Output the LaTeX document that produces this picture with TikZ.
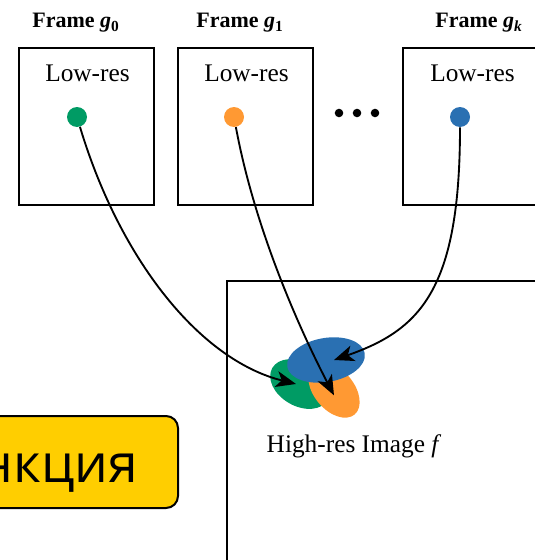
\documentclass[tikz,border=0pt]{standalone}
\usepackage{fontspec}
\setmainfont{Liberation Serif}
\newfontfamily\tagfont{Open Sans}
\usetikzlibrary{arrows.meta,shapes.geometric,positioning}
\definecolor{dotgreen}{RGB}{0,155,100}
\definecolor{dotorange}{RGB}{255,153,51}
\definecolor{dotblue}{RGB}{42,112,178}
\definecolor{tagyellow}{RGB}{255,206,0}
\tikzset{lowbox/.style={
            draw,
            line width=1.2pt,
            inner sep=0pt,
            minimum width=101pt,
            minimum height=118pt
        },
        sample/.style={
            circle,
            inner sep=0pt,
            minimum size=15pt
        },
        blob/.style={
            ellipse,
            inner sep=0pt
        },
        title/.style={
            font=\fontsize{16.5}{19}\selectfont\bfseries,
            anchor=base
        },
        lowres/.style={
            font=\fontsize{19}{22}\selectfont,
            anchor=base
        },
        tag/.style={
            draw,
            fill=tagyellow,
            line width=1.5pt,
            rounded corners=9pt,
            font=\tagfont\fontsize{40}{44}\selectfont,
            inner xsep=30pt,
            inner ysep=0pt,
            text height=30.8pt,
            text depth=0pt,
            minimum height=69pt
        },
        warp/.style={
            line width=1.4pt,
            -{Stealth[length=15pt,width=12pt,inset=4pt]}
        }
    }

\begin{document}
\begin{tikzpicture}[x=0.75pt,y=-0.75pt]
        \useasboundingbox (0,0) rectangle (535,560);
        \clip (0,0) rectangle (535,560);
        % low-res frames
        \node[lowbox] at (86.5,126.5) (f0) {};
        \node[lowbox] at (245.5,126.5) (f1) {};
        \node[lowbox] at (470.5,126.5) (fk) {};
        \node[title] at (76,28) (t0) {Frame \textit{g}\textsubscript{0}};
        \node[title] at (240,28) (t1) {Frame \textit{g}\textsubscript{1}};
        \node[title] at (479,28) (tk) {Frame \textit{g}\textsubscript{\textit{k}}};
        \node[lowres] at (87.5,82) (l0) {Low-res};
        \node[lowres] at (246.5,82) (l1) {Low-res};
        \node[lowres] at (472.5,82) (lk) {Low-res};
        \node[sample,fill=dotgreen] at (77,117) (g0) {};
        \node[sample,fill=dotorange] at (234,117) (g1) {};
        \node[sample,fill=dotblue] at (460,117) (gk) {};
        \foreach \x in {339,357,375}
            \fill (\x,113) circle (3.2pt);
        % high-res image
        \draw[line width=1pt] (227,600) -- (227,281) -- (600,281);
        \node[blob,fill=dotgreen,minimum width=48pt,minimum height=33pt,rotate=-30] at (300,384) (eg) {};
        \node[blob,fill=dotorange,minimum width=48pt,minimum height=30pt,rotate=-50] at (334,390) (eo) {};
        \node[blob,fill=dotblue,minimum width=59pt,minimum height=33pt,rotate=10] at (326,360) (eb) {};
        \node[lowres] at (354,452) (hr) {High-res Image \textit{f}};
        \draw[warp] (g0) .. controls (120,260) and (200,360) .. ([xshift=-3pt]eg.center);
        \draw[warp] (g1) .. controls (255,230) and (300,330) .. ([yshift=-4pt]eo.center);
        \draw[warp] (gk) .. controls (460,290) and (420,330) .. ([xshift=6pt]eb.center);
        % tag
        \node[tag,anchor=east] at (179,462) (fn) {нкция};
    \end{tikzpicture}
\end{document}
